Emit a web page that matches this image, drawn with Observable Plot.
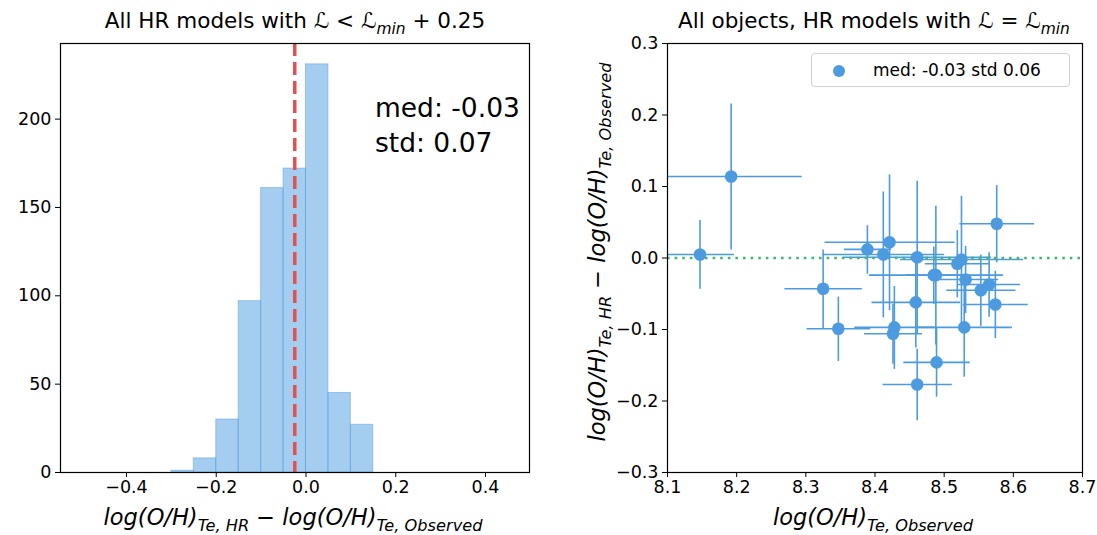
<!DOCTYPE html>
<html>
<head>
<meta charset="utf-8">
<script src="https://cdn.jsdelivr.net/npm/d3@7"></script>
<script src="https://cdn.jsdelivr.net/npm/@observablehq/plot@0.6"></script>
<style>
  html, body { margin: 0; padding: 0; background: #fff; }
  #root { position: relative; width: 1097px; height: 535px; overflow: hidden; font-family: "DejaVu Sans", sans-serif; }
  .panel { position: absolute; top: 0; }
  .panel svg text { font-size: 17.5px !important; font-family: "DejaVu Sans", sans-serif !important; fill: black; }
  #legend { position: absolute; left: 811px; top: 53px; width: 257px; height: 32px; border: 1px solid #d0d0d0; border-radius: 4px; background: rgba(255,255,255,0.8); font-family: "DejaVu Sans", sans-serif; font-size: 17px; }
  #legend .sw { position: absolute; left: 21px; top: 11px; width: 12px; height: 12px; border-radius: 50%; background: #4c9be0; }
  #legend .lb { position: absolute; left: 61px; top: 6px; white-space: pre; }
</style>
</head>
<body>
<div id="root"></div>
<script>
// ---------- Left panel: histogram data ----------
const binEdges = [-0.30, -0.25, -0.20, -0.15, -0.10, -0.05, 0.00, 0.05, 0.10, 0.15];
const binCounts = [1, 8, 30, 97, 161, 172, 231, 45, 27];
const medianHist = -0.025;
const histXTicks = [-0.4, -0.2, 0.0, 0.2, 0.4];
const histYTicks = [0, 50, 100, 150, 200];
const histNote1 = "med: -0.03";
const histNote2 = "std: 0.07";

// ---------- Right panel: per-object data ----------
const obsX  = [8.147, 8.192, 8.325, 8.347, 8.389, 8.421, 8.412, 8.461, 8.459, 8.428, 8.426, 8.461, 8.489, 8.485, 8.488, 8.519, 8.525, 8.531, 8.553, 8.565, 8.576, 8.574, 8.529];
const diffY = [0.005, 0.114, -0.043, -0.099, 0.012, 0.022, 0.005, 0.001, -0.062, -0.097, -0.106, -0.177, -0.146, -0.024, -0.024, -0.008, -0.002, -0.030, -0.045, -0.037, 0.048, -0.065, -0.097];
const errX  = [0.049, 0.102, 0.056, 0.046, 0.034, 0.094, 0.088, 0.107, 0.064, 0.058, 0.042, 0.050, 0.048, 0.040, 0.097, 0.047, 0.089, 0.047, 0.050, 0.045, 0.054, 0.047, 0.069];
const errY  = [0.048, 0.102, 0.055, 0.045, 0.034, 0.095, 0.088, 0.107, 0.063, 0.058, 0.042, 0.050, 0.048, 0.040, 0.097, 0.047, 0.089, 0.047, 0.050, 0.045, 0.054, 0.047, 0.069];
const scatXTicks = [8.1, 8.2, 8.3, 8.4, 8.5, 8.6, 8.7];
const scatYTicks = [-0.3, -0.2, -0.1, 0.0, 0.1, 0.2, 0.3];
const legendLabel = "med: -0.03 std 0.06";

const BLUE = "#4c9be0";
const RED = "#e35050";
const GREEN = "#3dba6c";
const fmt1 = d => d.toFixed(1).replace("-", "\u2212");

const bins = binCounts.map((c, i) => ({x1: binEdges[i], x2: binEdges[i + 1], y: c}));
const pts = obsX.map((x, i) => ({x, y: diffY[i], ex: errX[i], ey: errY[i]}));

const root = document.getElementById("root");
const axisStyle = {fontFamily: "DejaVu Sans, sans-serif", fontSize: "17.5px", color: "black", background: "white", overflow: "visible"};

const left = Plot.plot({
  width: 560, height: 535,
  marginLeft: 60, marginRight: 31, marginTop: 43, marginBottom: 63,
  style: axisStyle,
  x: {domain: [-0.547, 0.498], label: null},
  y: {domain: [0, 242.8], label: null},
  marks: [
    Plot.rectY(bins, {x1: "x1", x2: "x2", y: "y", fill: BLUE, fillOpacity: 0.5, stroke: BLUE, strokeOpacity: 0.45, strokeWidth: 1, inset: 0}),
    Plot.ruleX([medianHist], {stroke: RED, strokeWidth: 3.5, strokeDasharray: "13,6"}),
    Plot.frame({stroke: "black", strokeWidth: 1.2}),
    Plot.axisX({ticks: histXTicks, tickFormat: fmt1, tickSize: 5, tickPadding: 3, label: null}),
    Plot.axisY({ticks: histYTicks, tickFormat: d => String(d), tickSize: 5, tickPadding: 4, label: null})
  ]
});
const leftDiv = document.createElement("div");
leftDiv.className = "panel"; leftDiv.style.left = "0px";
leftDiv.appendChild(left);
root.appendChild(leftDiv);

const right = Plot.plot({
  width: 537, height: 535,
  marginLeft: 107, marginRight: 15, marginTop: 43, marginBottom: 63,
  style: axisStyle,
  x: {domain: [8.1, 8.7], label: null},
  y: {domain: [-0.3, 0.3], label: null},
  marks: [
    Plot.link(pts, {x1: d => d.x - d.ex, x2: d => d.x + d.ex, y1: "y", y2: "y", stroke: BLUE, strokeWidth: 1.6, clip: true}),
    Plot.link(pts, {x1: "x", x2: "x", y1: d => d.y - d.ey, y2: d => d.y + d.ey, stroke: BLUE, strokeWidth: 1.6, clip: true}),
    Plot.ruleY([0], {stroke: GREEN, strokeWidth: 2.6, strokeDasharray: "2.6,5"}),
    Plot.dot(pts, {x: "x", y: "y", r: 6.3, fill: BLUE, stroke: "none"}),
    Plot.frame({stroke: "black", strokeWidth: 1.2}),
    Plot.axisX({ticks: scatXTicks, tickFormat: fmt1, tickSize: 5, tickPadding: 3, label: null}),
    Plot.axisY({ticks: scatYTicks, tickFormat: fmt1, tickSize: 5, tickPadding: 4, label: null})
  ]
});
const rightDiv = document.createElement("div");
rightDiv.className = "panel"; rightDiv.style.left = "560px";
rightDiv.appendChild(right);
root.appendChild(rightDiv);

// ---------- Text overlay (titles, labels, annotations) ----------
const overlay = d3.create("svg")
  .attr("width", 1097).attr("height", 535)
  .style("position", "absolute").style("left", "0px").style("top", "0px")
  .style("pointer-events", "none")
  .attr("font-family", "DejaVu Sans, sans-serif");

function mathText(x, y, anchor, fs, segs, rotate) {
  const t = overlay.append("text")
    .attr("text-anchor", anchor).attr("font-size", fs).attr("fill", "black")
    .style("white-space", "pre");
  if (rotate) t.attr("transform", `translate(${x},${y}) rotate(-90)`);
  else t.attr("x", x).attr("y", y);
  let shifted = false;
  const sh = fs * 0.28;
  for (const s of segs) {
    const ts = t.append("tspan").text(s.t);
    if (s.it) ts.attr("font-style", "italic");
    if (s.sub) {
      ts.attr("font-size", fs * 0.72);
      if (!shifted) { ts.attr("dy", sh); shifted = true; }
    } else if (shifted) { ts.attr("dy", -sh); shifted = false; }
  }
  return t;
}

// titles (centred over each frame)
mathText(295, 28, "middle", 21.5, [
  {t: "All HR models with "}, {t: "\u2112", it: true}, {t: " < "}, {t: "\u2112", it: true}, {t: "min", it: true, sub: true}, {t: " + 0.25"}
]);
mathText(874, 28, "middle", 21.5, [
  {t: "All objects, HR models with "}, {t: "\u2112", it: true}, {t: " = "}, {t: "\u2112", it: true}, {t: "min", it: true, sub: true}
]);

// axis labels
const lhsParts = [
  {t: "log", it: true}, {t: "(", it: true}, {t: "O/H", it: true}, {t: ")", it: true}, {t: "Te, HR", it: true, sub: true},
  {t: " \u2212 "}, {t: "log", it: true}, {t: "(", it: true}, {t: "O/H", it: true}, {t: ")", it: true}, {t: "Te, Observed", it: true, sub: true}
];
mathText(293, 525, "middle", 22.5, lhsParts);
mathText(873, 525, "middle", 22.5, [
  {t: "log", it: true}, {t: "(", it: true}, {t: "O/H", it: true}, {t: ")", it: true}, {t: "Te, Observed", it: true, sub: true}
]);
mathText(605, 252, "middle", 22.5, lhsParts, true);

// histogram annotation
overlay.append("text").attr("x", 375).attr("y", 117).attr("font-size", 26.5).text(histNote1);
overlay.append("text").attr("x", 375).attr("y", 152).attr("font-size", 26.5).text(histNote2);

root.appendChild(overlay.node());

// legend
const lg = document.createElement("div");
lg.id = "legend";
lg.innerHTML = `<span class="sw"></span><span class="lb"></span>`;
lg.querySelector(".lb").textContent = legendLabel;
root.appendChild(lg);
</script>
</body>
</html>
